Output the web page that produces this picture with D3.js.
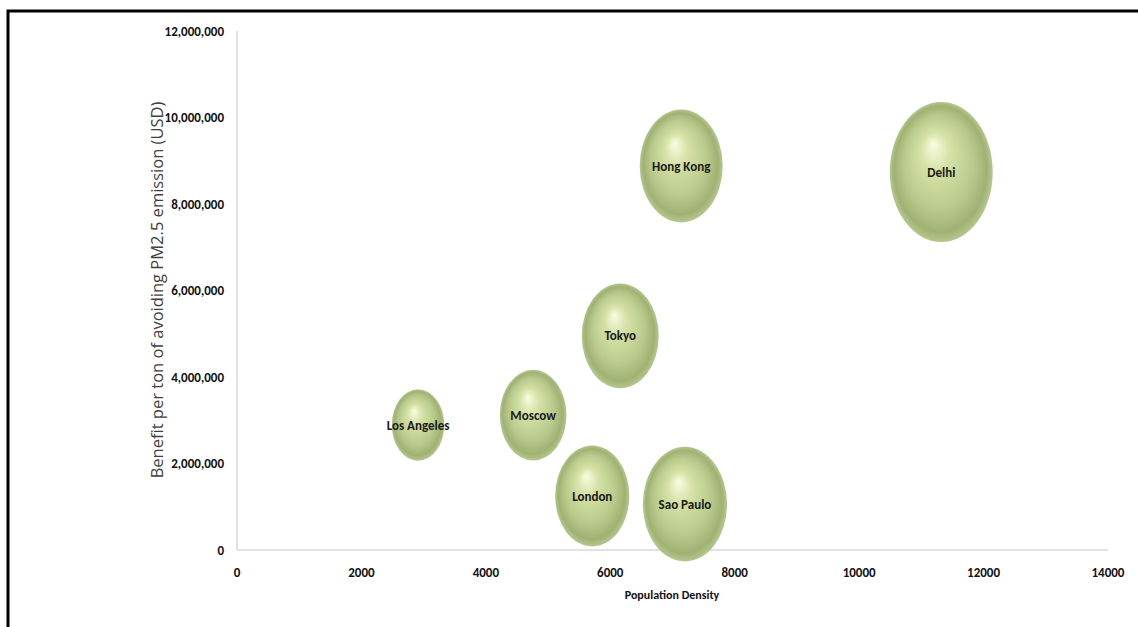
<!DOCTYPE html>
<html>
<head>
<meta charset="utf-8">
<script src="https://cdn.jsdelivr.net/npm/d3@7"></script>
<style>
  body { margin: 0; background: #fff; }
  svg { display: block; }
</style>
</head>
<body>
<svg id="chart" width="1138" height="627"></svg>
<script>
// city bubbles, values
const cities = ['Los Angeles', 'Moscow', 'London', 'Tokyo', 'Sao Paulo', 'Hong Kong', 'Delhi'];
const density = [2910, 4760, 5710, 6160, 7200, 7140, 11320];
const benefit = [2890000, 3120000, 1250000, 4950000, 1060000, 8880000, 8740000];
const bubbleSize = [26, 42, 52, 56, 67, 65, 100];

const xTicks = [0, 2000, 4000, 6000, 8000, 10000, 12000, 14000];
const yTicks = [0, 2000000, 4000000, 6000000, 8000000, 10000000, 12000000];

const svg = d3.select('#chart');
const font = "Carlito, 'Liberation Sans Narrow', 'Liberation Sans', Arial, sans-serif";

// frame (only top + left edges show in the crop)
svg.append('path')
    .attr('d', 'M8,627 L8,11 L1138,11')
    .attr('fill', 'none')
    .attr('stroke', '#000')
    .attr('stroke-width', 3);

const x = d3.scaleLinear().domain([0, 14000]).range([237, 1108]);
const y = d3.scaleLinear().domain([0, 12000000]).range([550, 31]);
const r = d3.scaleSqrt().domain([0, 100]).range([0, 70]);
const squash = 0.735; // bubbles look stretched vertically

const defs = svg.append('defs');
const grad = defs.append('radialGradient')
    .attr('id', 'ball')
    .attr('cx', 0.5).attr('cy', 0.5).attr('r', 0.5)
    .attr('fx', 0.42).attr('fy', 0.3);
grad.append('stop').attr('offset', '0%').attr('stop-color', '#f9fce2');
grad.append('stop').attr('offset', '28%').attr('stop-color', '#d6e2a6');
grad.append('stop').attr('offset', '68%').attr('stop-color', '#b9c98c');
grad.append('stop').attr('offset', '90%').attr('stop-color', '#a0b273');
grad.append('stop').attr('offset', '100%').attr('stop-color', '#b6c78e');

// axes lines
svg.append('line')
    .attr('x1', x(0)).attr('x2', x(0))
    .attr('y1', y(12000000)).attr('y2', y(0))
    .attr('stroke', '#d9d9d9').attr('stroke-width', 1.5);
svg.append('line')
    .attr('x1', x(0)).attr('x2', x(14000))
    .attr('y1', y(0)).attr('y2', y(0))
    .attr('stroke', '#d9d9d9').attr('stroke-width', 1.5);

// tick labels
svg.append('g').selectAll('text')
    .data(yTicks)
    .enter()
    .append('text')
    .attr('x', 224)
    .attr('y', d => y(d))
    .attr('dy', '0.35em')
    .attr('text-anchor', 'end')
    .style('font-family', font)
    .style('font-weight', 'bold')
    .style('font-size', '13px')
    .style('fill', '#111')
    .text(d => d3.format(',')(d));

svg.append('g').selectAll('text')
    .data(xTicks)
    .enter()
    .append('text')
    .attr('x', d => x(d))
    .attr('y', 577)
    .attr('text-anchor', 'middle')
    .style('font-family', font)
    .style('font-weight', 'bold')
    .style('font-size', '13px')
    .style('fill', '#111')
    .text(d => d);

// axis titles
svg.append('text')
    .attr('transform', 'translate(163,290) rotate(-90)')
    .attr('text-anchor', 'middle')
    .style('font-family', "'Open Sans', sans-serif")
    .style('font-size', '16.5px')
    .style('fill', '#404040')
    .text('Benefit per ton of avoiding PM2.5 emission (USD)');

svg.append('text')
    .attr('x', 672)
    .attr('y', 599)
    .attr('text-anchor', 'middle')
    .style('font-family', font)
    .style('font-weight', 'bold')
    .style('font-size', '12px')
    .style('fill', '#111')
    .text('Population Density');

// bubbles
const data = cities.map((c, i) => ({ name: c, x: density[i], y: benefit[i], s: bubbleSize[i] }));

const bub = svg.append('g').selectAll('g')
    .data(data)
    .enter()
    .append('g')
    .attr('transform', d => `translate(${x(d.x)},${y(d.y)})`);

bub.append('ellipse')
    .attr('rx', d => r(d.s) * squash)
    .attr('ry', d => r(d.s))
    .attr('fill', 'url(#ball)');

bub.append('text')
    .attr('dy', '0.35em')
    .attr('text-anchor', 'middle')
    .style('font-family', font)
    .style('font-weight', 'bold')
    .style('font-size', '13px')
    .style('fill', '#1a1a1a')
    .text(d => d.name);
</script>
</body>
</html>
